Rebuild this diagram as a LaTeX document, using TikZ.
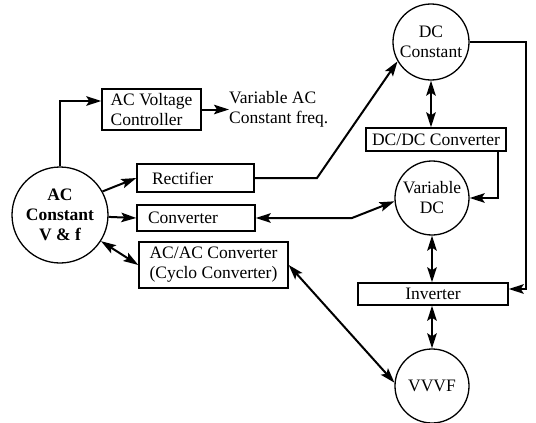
\documentclass[tikz,border=0pt]{standalone}
\usepackage{fontspec}
\setmainfont{Liberation Serif}
\usetikzlibrary{arrows.meta}
\begin{document}
\begin{tikzpicture}[x=1pt,y=-1pt,
  every node/.style={font=\fontsize{17.5}{20}\selectfont},
  box/.style={draw, line width=1.4pt, inner sep=0pt},
  circ/.style={draw, circle, line width=1.3pt, inner sep=0pt, align=center},
  tip/.tip={Stealth[length=15pt,width=9.5pt,inset=3pt]},
  con/.style={line width=2pt, -tip},
  dcon/.style={line width=2pt, tip-tip}]
\useasboundingbox (0,0) rectangle (536,423);

% circles
\node[circ, minimum size=96pt] (ac) at (60,215) {\bfseries AC\\\bfseries Constant\\\bfseries V \& f};
\node[circ, minimum size=76pt] (dc) at (431,42) {DC\\Constant};
\node[circ, minimum size=74pt] (vdc) at (432,198) {Variable\\DC};
\node[circ, minimum size=74pt] (vvvf) at (432,386) {VVVF};

% boxes
\node[box, minimum width=99pt, minimum height=41pt, align=left] (acv) at (151.5,109.5) {AC Voltage\\Controller};
\node[anchor=west, align=left, inner sep=0pt] (vac) at (229,109.5) {Variable AC\\Constant freq.};
\node[box, minimum height=28pt, text width=87pt, inner xsep=15pt, align=left] (rect) at (195.5,178) {Rectifier};
\node[box, minimum height=26pt, text width=96pt, inner xsep=11pt, align=left] (conv) at (196,218) {Converter};
\node[box, minimum width=149pt, minimum height=46pt, align=center] (acac) at (213.5,265) {AC/AC Converter\\(Cyclo Converter)};
\node[box, minimum width=140pt, minimum height=23pt] (dcdc) at (436,139.5) {DC/DC Converter};
\node[box, minimum width=150pt, minimum height=22pt] (inv) at (433,294) {Inverter};

% helper coordinates
\coordinate (rb) at (317,178);
\coordinate (rx) at (526,40);
\coordinate (cb) at (352,218);

% connectors
\draw[con] (ac.north) |- ([yshift=8.5pt]acv.west);
\draw[con] (acv.east) -- (vac.west);
\draw[con] (ac.29) -- (rect.west);
\draw[con] (ac) -- (conv.west);
\draw[dcon] (ac) -- (acac.west);
\draw[con] (rect.east) -- (rb) -- (dc.210);
\draw[dcon] (dc.south) -- (dc.south |- dcdc.north);
\draw[con] (dc.east) -- (dc.east -| rx) |- ([yshift=5pt]inv.east);
\draw[con] ([xshift=-9pt]dcdc.south east) |- (vdc.east);
\draw[dcon] (conv.east) -- (cb) -- (vdc.185);
\draw[dcon] (vdc.south) -- (vdc.south |- inv.north);
\draw[dcon] (vvvf.north |- inv.south) -- (vvvf.north);
\draw[dcon] (acac.east) -- (vvvf.175);
\end{tikzpicture}
\end{document}
